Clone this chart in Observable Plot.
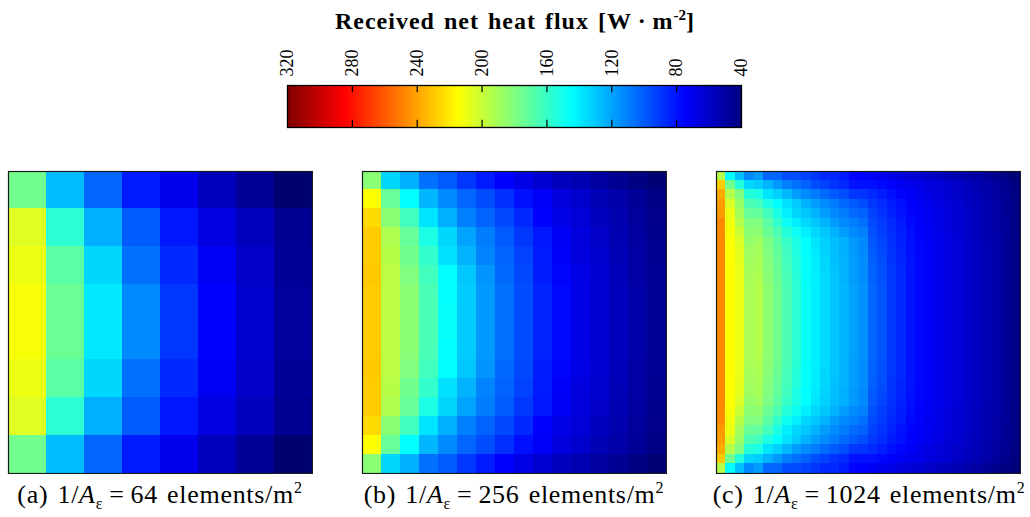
<!DOCTYPE html>
<html>
<head>
<meta charset="utf-8">
<script src="https://cdn.jsdelivr.net/npm/d3@7"></script>
<script src="https://cdn.jsdelivr.net/npm/@observablehq/plot@0.6"></script>
<style>
  html, body { margin: 0; padding: 0; background: #fff; }
  #fig { position: relative; width: 1030px; height: 517px; overflow: hidden; font-family: "Liberation Serif", serif; color: #000; }
  .abs { position: absolute; }
  #title { left: 0; width: 1030px; top: 9px; text-align: center; font-weight: bold; font-size: 24px; line-height: 1; letter-spacing: 1px; word-spacing: 2px; }
  #title sup { font-size: 15px; line-height: 0; letter-spacing: 0; }
  .caption { width: 400px; text-align: center; font-size: 26px; line-height: 1; white-space: nowrap; letter-spacing: 0.7px; word-spacing: 2px; }
  .caption sub { font-size: 16px; line-height: 0; }
  .caption sup { font-size: 16px; line-height: 0; }
  .caption .op { margin: 0 6px; }
</style>
</head>
<body>
<div id="fig">
  <div id="title" class="abs">Received net heat flux [W&#8201;·&#8201;m<sup>-2</sup>]</div>
</div>
<script>
// Colour bar ticks (W·m^-2), highest on the left
const barTicks = [320, 280, 240, 200, 160, 120, 80, 40];
const colorDomain = [40, 320];

// Panel captions
const captions = [
  {tag: "(a)", density: "64"},
  {tag: "(b)", density: "256"},
  {tag: "(c)", density: "1024"}
];

// (a) 8 x 8 elements, rows top to bottom
const fluxA = [
  [176, 127, 103, 82, 70, 57, 47, 36],
  [206, 157, 123, 100, 81, 67, 57, 45],
  [210, 170, 134, 106, 86, 72, 60, 47],
  [213, 174, 139, 113, 90, 75, 61, 48],
  [213, 174, 139, 113, 90, 75, 61, 48],
  [210, 170, 134, 106, 86, 72, 60, 47],
  [206, 157, 123, 100, 81, 67, 57, 45],
  [176, 127, 103, 82, 70, 57, 47, 36]
];

// (b) 16 x 16 elements
const fluxB = [
  [183, 134, 123, 106, 100, 90, 82, 75, 68, 62, 57, 54, 49, 45, 41, 37],
  [215, 173, 145, 125, 113, 103, 96, 88, 79, 73, 66, 61, 55, 51, 47, 42],
  [225, 183, 163, 138, 123, 110, 102, 95, 86, 75, 69, 64, 58, 53, 48, 43],
  [229, 193, 173, 152, 134, 120, 109, 100, 90, 81, 72, 66, 60, 54, 49, 44],
  [229, 195, 176, 159, 137, 124, 111, 102, 93, 82, 73, 66, 61, 55, 50, 45],
  [230, 197, 180, 163, 145, 130, 116, 104, 95, 83, 76, 68, 62, 56, 50, 46],
  [229, 197, 183, 165, 145, 131, 117, 106, 96, 85, 77, 69, 63, 57, 51, 46],
  [229, 197, 183, 165, 146, 131, 117, 106, 96, 85, 77, 69, 63, 57, 51, 46],
  [229, 197, 183, 165, 146, 131, 117, 106, 96, 85, 77, 69, 63, 57, 51, 46],
  [229, 197, 183, 165, 145, 131, 117, 106, 96, 85, 77, 69, 63, 57, 51, 46],
  [230, 197, 180, 163, 145, 130, 116, 104, 95, 83, 76, 68, 62, 56, 50, 46],
  [229, 195, 176, 159, 137, 124, 111, 102, 93, 82, 73, 66, 61, 55, 50, 45],
  [229, 193, 173, 152, 134, 120, 109, 100, 90, 81, 72, 66, 60, 54, 49, 44],
  [225, 183, 163, 138, 123, 110, 102, 95, 86, 75, 69, 64, 58, 53, 48, 43],
  [215, 173, 145, 125, 113, 103, 96, 88, 79, 73, 66, 61, 55, 51, 47, 42],
  [183, 134, 123, 106, 100, 90, 82, 75, 68, 62, 57, 54, 49, 45, 41, 37]
];

// (c) 32 x 32 elements
const fluxC = [
  [194,145,128,113,118,103,103,96,96,93,90,86,86,82,76,75, 72,70,68,66,64,62,60,58,56,54,52,50,47,44,41,38],
  [229,176,155,134,131,124,117,110,106,102,96,93,89,86,80,79, 79,77,74,72,70,68,66,64,62,59,57,54,51,48,44,40],
  [238,194,180,155,152,138,132,125,118,113,109,104,100,96,90,89, 86,83,79,76,73,70,67,65,63,60,58,55,52,49,45,41],
  [242,205,187,166,163,152,145,137,131,124,118,113,109,104,100,96, 90,87,82,79,75,72,70,67,64,62,59,56,53,50,46,42],
  [243,210,190,173,172,163,152,141,134,130,124,118,113,109,104,102, 93,89,84,80,76,73,71,68,65,62,60,57,53,50,46,42],
  [247,212,195,180,180,170,159,148,141,134,130,124,118,113,110,106, 95,91,86,82,77,74,71,69,66,63,60,57,54,50,47,42],
  [247,214,201,183,184,174,166,155,148,141,134,130,124,118,113,110, 97,92,87,83,78,75,72,69,66,63,60,57,54,51,47,42],
  [248,215,205,186,188,179,170,160,152,145,138,132,127,123,117,113, 99,94,88,84,79,76,72,70,67,64,61,58,54,51,47,43],
  [248,215,207,188,190,180,172,162,153,145,139,133,128,123,117,113, 100,95,89,85,79,76,73,70,67,64,61,58,55,51,47,43],
  [248,215,208,189,191,181,173,163,154,146,140,134,128,124,118,114, 101,96,89,85,80,76,73,70,67,64,61,58,55,51,47,43],
  [248,215,209,190,192,182,174,164,155,146,140,134,129,124,118,114, 102,97,90,86,80,76,73,70,67,64,61,58,55,51,47,43],
  [248,215,209,191,193,183,175,165,156,146,141,135,129,124,118,114, 102,97,90,86,80,76,73,70,67,64,61,58,55,51,47,43],
  [248,215,210,192,194,184,176,166,157,147,141,135,130,125,119,115, 103,98,90,86,80,76,73,70,67,64,61,58,55,51,47,43],
  [248,215,210,192,194,184,176,166,157,147,141,135,130,125,119,115, 103,98,90,86,80,76,73,70,67,64,61,58,55,51,47,43],
  [248,215,210,192,194,184,176,166,157,147,141,135,130,125,119,115, 103,98,90,86,80,76,73,70,67,64,61,58,55,51,47,43],
  [248,215,210,192,194,184,176,166,157,147,141,135,130,125,119,115, 103,98,90,86,80,76,73,70,67,64,61,58,55,51,47,43],
  [248,215,210,192,194,184,176,166,157,147,141,135,130,125,119,115, 103,98,90,86,80,76,73,70,67,64,61,58,55,51,47,43],
  [248,215,210,192,194,184,176,166,157,147,141,135,130,125,119,115, 103,98,90,86,80,76,73,70,67,64,61,58,55,51,47,43],
  [248,215,210,192,194,184,176,166,157,147,141,135,130,125,119,115, 103,98,90,86,80,76,73,70,67,64,61,58,55,51,47,43],
  [248,215,210,192,194,184,176,166,157,147,141,135,130,125,119,115, 103,98,90,86,80,76,73,70,67,64,61,58,55,51,47,43],
  [248,215,209,191,193,183,175,165,156,146,141,135,129,124,118,114, 102,97,90,86,80,76,73,70,67,64,61,58,55,51,47,43],
  [248,215,209,190,192,182,174,164,155,146,140,134,129,124,118,114, 102,97,90,86,80,76,73,70,67,64,61,58,55,51,47,43],
  [248,215,208,189,191,181,173,163,154,146,140,134,128,124,118,114, 101,96,89,85,80,76,73,70,67,64,61,58,55,51,47,43],
  [248,215,207,188,190,180,172,162,153,145,139,133,128,123,117,113, 100,95,89,85,79,76,73,70,67,64,61,58,55,51,47,43],
  [248,215,205,186,188,179,170,160,152,145,138,132,127,123,117,113, 99,94,88,84,79,76,72,70,67,64,61,58,54,51,47,43],
  [247,214,201,183,184,174,166,155,148,141,134,130,124,118,113,110, 97,92,87,83,78,75,72,69,66,63,60,57,54,51,47,42],
  [247,212,195,180,180,170,159,148,141,134,130,124,118,113,110,106, 95,91,86,82,77,74,71,69,66,63,60,57,54,50,47,42],
  [243,210,190,173,172,163,152,141,134,130,124,118,113,109,104,102, 93,89,84,80,76,73,71,68,65,62,60,57,53,50,46,42],
  [242,205,187,166,163,152,145,137,131,124,118,113,109,104,100,96, 90,87,82,79,75,72,70,67,64,62,59,56,53,50,46,42],
  [238,194,180,155,152,138,132,125,118,113,109,104,100,96,90,89, 86,83,79,76,73,70,67,65,63,60,58,55,52,49,45,41],
  [229,176,155,134,131,124,117,110,106,102,96,93,89,86,80,79, 79,77,74,72,70,68,66,64,62,59,57,54,51,48,44,40],
  [194,145,128,113,118,103,103,96,96,93,90,86,86,82,76,75, 72,70,68,66,64,62,60,58,56,54,52,50,47,44,41,38]
];

// Classic "jet" ramp: dark blue -> blue -> cyan -> yellow -> red -> dark red
function jet(t) {
  const c = v => Math.max(0, Math.min(1, v));
  const r = c(1.5 - Math.abs(4 * t - 3));
  const g = c(1.5 - Math.abs(4 * t - 2));
  const b = c(1.5 - Math.abs(4 * t - 1));
  return `rgb(${Math.round(r * 255)},${Math.round(g * 255)},${Math.round(b * 255)})`;
}
const colorScale = {type: "linear", domain: colorDomain, interpolate: jet};

const fig = document.getElementById("fig");
function place(node, left, top) {
  node.classList.add("abs");
  node.style.left = left + "px";
  node.style.top = top + "px";
  fig.appendChild(node);
}

// Colour bar
const bar = Plot.plot({
  width: 480,
  height: 130,
  marginLeft: 13,
  marginRight: 13,
  marginTop: 85,
  marginBottom: 3,
  style: {fontFamily: "Liberation Serif, serif", fontSize: "18px", color: "#000", background: "transparent"},
  x: {domain: [320, 40], axis: "top", ticks: barTicks, tickRotate: -90, tickSize: 0, tickPadding: 9, label: null, tickFormat: d => String(d)},
  y: {domain: [0, 1], axis: null},
  color: colorScale,
  marks: [
    Plot.raster({x1: 320, x2: 40, y1: 0, y2: 1, width: 560, height: 1, fill: (x) => x, imageRendering: "auto"}),
    Plot.ruleX(barTicks.slice(1, -1), {y1: 1, y2: 0.83, stroke: "#000", strokeWidth: 1.2}),
    Plot.ruleX(barTicks.slice(1, -1), {y1: 0, y2: 0.17, stroke: "#000", strokeWidth: 1.2}),
    Plot.frame({stroke: "#000", strokeWidth: 1.3})
  ]
});
place(bar, 274, 0);

// Heat-flux maps
function fluxMap(grid) {
  const n = grid.length;
  const cells = grid.flatMap((row, r) => row.map((v, c) => ({row: r, col: c, value: v})));
  return Plot.plot({
    width: 306,
    height: 304,
    margin: 1,
    x: {type: "band", domain: d3.range(n), padding: 0, round: false, axis: null},
    y: {type: "band", domain: d3.range(n), padding: 0, round: false, axis: null},
    color: colorScale,
    style: {background: "transparent"},
    marks: [
      Plot.cell(cells, {x: "col", y: "row", fill: "value", stroke: "value", strokeWidth: 1, shapeRendering: "crispEdges"}),
      Plot.frame({stroke: "#1a1a1a", strokeWidth: 1.2})
    ]
  });
}

const lefts = [7, 361, 715];
[fluxA, fluxB, fluxC].forEach((g, i) => place(fluxMap(g), lefts[i], 170));

captions.forEach((c, i) => {
  const d = document.createElement("div");
  d.className = "caption";
  d.innerHTML = `${c.tag} 1/<i>A</i><sub>ε</sub><span class="op">=</span>${c.density} elements/m<sup>2</sup>`;
  place(d, lefts[i] + 153 - 200 + (i === 2 ? 1 : 0), 482);
});
</script>
</body>
</html>
